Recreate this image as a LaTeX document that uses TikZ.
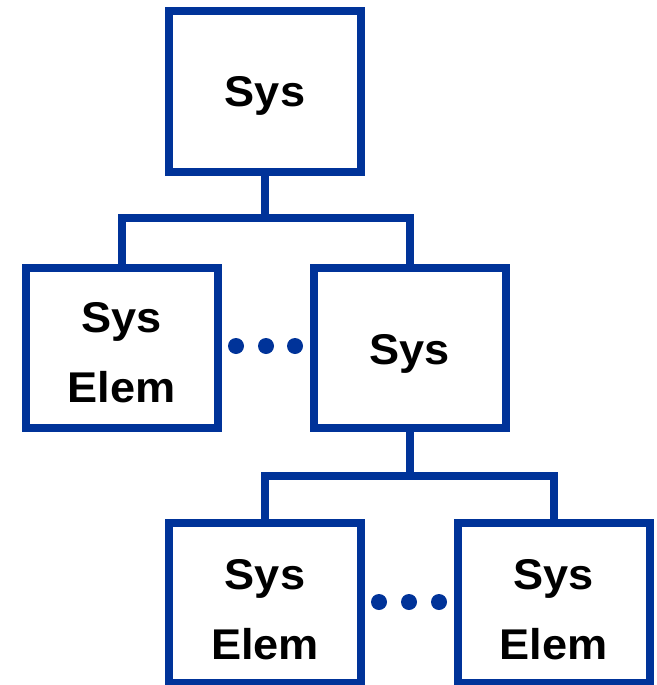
\documentclass[tikz,border=0pt]{standalone}
\usepackage{fontspec}
\newfontfamily\lblfont[FakeStretch=1.05]{Liberation Sans}
\definecolor{sysblue}{RGB}{0,51,153}
\begin{document}
\begin{tikzpicture}[x=1pt,y=-1pt,
  box/.style={draw=sysblue, line width=8pt, minimum width=192pt, minimum height=160pt, inner sep=0pt},
  lbl/.style={font=\lblfont\bfseries\fontsize{43}{50}\selectfont, text=black, inner sep=0pt, anchor=base},
  link/.style={draw=sysblue, line width=8pt},
  dot/.style={circle, fill=sysblue, minimum size=16pt, inner sep=0pt}]
\useasboundingbox (0,0) rectangle (656,685);
% boxes
\node[box] (A) at (265,91.5) {};
\node[box] (B) at (121.5,348) {};
\node[box] (C) at (409.5,348) {};
\node[box] (D) at (265,603) {};
\node[box] (E) at (553.5,603) {};
% labels
\node[lbl] (tA) at ([yshift=-15pt]A.center) {Sys};
\node[lbl] (tB1) at ([yshift=16pt]B.center) {Sys};
\node[lbl] (tB2) at ([yshift=-54pt]B.center) {Elem};
\node[lbl] (tC) at ([yshift=-16pt]C.center) {Sys};
\node[lbl] (tD1) at ([yshift=14pt]D.center) {Sys};
\node[lbl] (tD2) at ([yshift=-56pt]D.center) {Elem};
\node[lbl] (tE1) at ([yshift=14pt]E.center) {Sys};
\node[lbl] (tE2) at ([yshift=-56pt]E.center) {Elem};
% connectors
\coordinate (j1) at (265,218);
\coordinate (j2) at (410,476);
\draw[link] (A.south) -- (A.south |- j1);
\draw[link] (B.north) -- (B.north |- j1) -- (C.north |- j1) -- (C.north);
\draw[link] (C.south) -- (C.south |- j2);
\draw[link] (D.north) -- (D.north |- j2) -- (E.north |- j2) -- (E.north);
% dots
\node[dot] (d1) at (236,346) {};
\node[dot] (d2) at (266,346) {};
\node[dot] (d3) at (295,346) {};
\node[dot] (d4) at (379,602) {};
\node[dot] (d5) at (409,602) {};
\node[dot] (d6) at (439,602) {};
\end{tikzpicture}
\end{document}
